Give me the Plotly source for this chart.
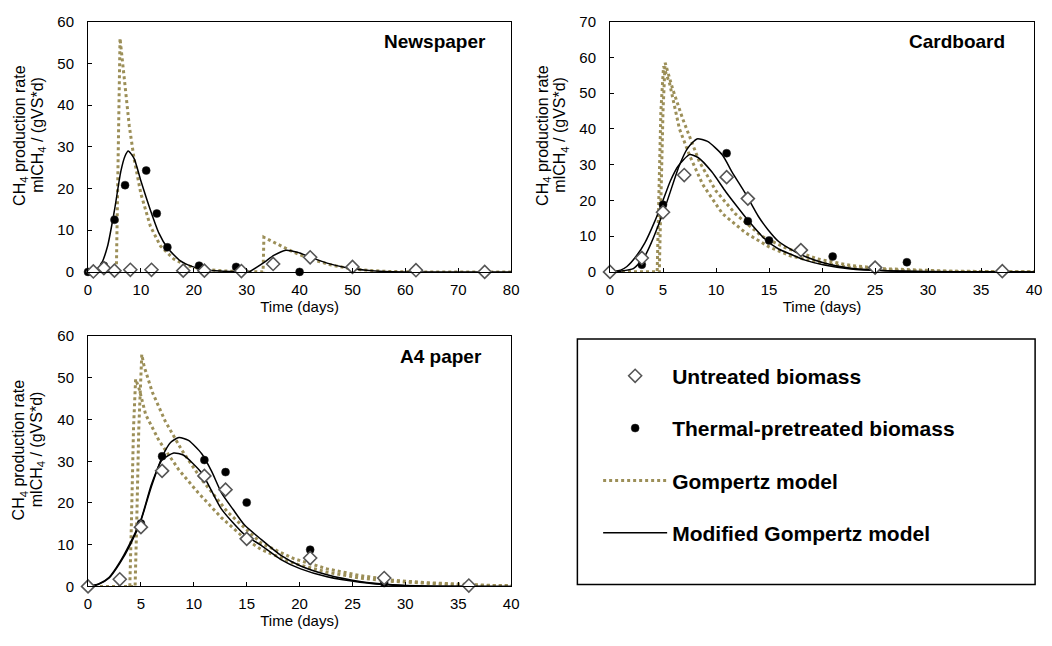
import plotly.graph_objects as go

W, H = 1052, 646
FONT = "Liberation Sans, Arial, sans-serif"
KHAKI = "#9C8F58"

# ---------------- Newspaper ----------------
np_untreated_x = [1, 3, 5, 8, 12, 18, 22, 29, 35, 42, 50, 62, 75]
np_untreated_y = [0.1, 0.9, 0.3, 0.5, 0.5, 0.3, 0.3, 0.2, 1.9, 3.5, 1.2, 0.4, 0.0]
np_thermal_x = [0, 3, 5, 7, 11, 13, 15, 21, 28, 40]
np_thermal_y = [0.0, 1.5, 12.5, 20.8, 24.3, 14.0, 5.9, 1.5, 1.2, 0.0]
np_gomp_x = [0, 5.35, 5.6, 5.85, 6.05, 6.5, 7.2, 7.8, 8.7, 10, 11.8, 13.7, 16.2, 18.7, 22, 26, 30,
             33.1, 33.25, 35.8, 38.9, 42.1, 45.8, 49.5, 53, 57, 62, 80]
np_gomp_y = [0, 0, 20, 45, 56, 50.6, 42.8, 35, 27.2, 18.7, 10.9, 6.2, 3.1, 1.5, 0.6, 0.2, 0.05,
             0, 8.3, 6.6, 4.7, 3.1, 1.7, 0.8, 0.35, 0.1, 0, 0]
np_mod_x = [0, 1.5, 2.5, 3.7, 5, 6.2, 7, 7.6, 8.7, 10, 11.8, 13.4, 15, 17.4, 19.9, 22, 25, 28,
            30.5, 31.5, 33.3, 35.2, 37.4, 39.6, 42.1, 45.2, 48.9, 52.6, 56, 60, 80]
np_mod_y = [0, 0.4, 1.9, 6.2, 14.8, 24.1, 27.8, 29, 27.2, 21.8, 14.8, 9.3, 5.8, 2.7, 1.2, 0.6, 0.2, 0.05,
            0, 0.8, 2.3, 4.0, 5.2, 4.7, 3.5, 2.1, 1.0, 0.4, 0.1, 0, 0]

# ---------------- Cardboard ----------------
cb_untreated_x = [0, 3, 5, 7, 11, 13, 18, 25, 37]
cb_untreated_y = [0.0, 3.9, 16.7, 27.1, 26.5, 20.5, 6.1, 1.2, 0.2]
cb_thermal_x = [3, 5, 11, 13, 15, 21, 28]
cb_thermal_y = [2.0, 18.8, 33.2, 14.2, 8.8, 4.3, 2.7]
cb_gomp1_x = [0, 4.45, 4.6, 4.8, 5.05, 5.62, 6.55, 7.49, 8.73, 10.6, 12.8, 15, 17, 20, 23, 26, 30, 35, 40]
cb_gomp1_y = [0, 0, 20, 45, 57.5, 52.7, 40, 32.7, 24.5, 16.3, 10.9, 7.0, 4.5, 2.4, 1.2, 0.6, 0.2, 0.05, 0]
cb_gomp2_x = [0, 4.65, 4.8, 5.0, 5.2, 5.94, 6.87, 8.42, 9.98, 11.8, 14.3, 16.5, 19.6, 22.7, 25.8, 28.9, 32, 40]
cb_gomp2_y = [0, 0, 20, 45, 58.5, 50.9, 42.7, 30.9, 22.7, 16.3, 10.0, 6.8, 3.6, 1.8, 0.9, 0.45, 0.2, 0.02]
cb_mod1_x = [0, 1, 2.2, 3.2, 3.9, 5.3, 6.5, 7.3, 8.2, 9.2, 10.6, 11.5, 12.8, 14.0, 14.9, 15.9, 16.5,
             18.4, 20.2, 22.7, 25.8, 30, 35, 40]
cb_mod1_y = [0, 0.2, 0.9, 4.0, 8.2, 19, 29.5, 34.5, 37.2, 36.5, 32.7, 28, 21.8, 15.5, 11.8, 8.5, 7.3,
             4.3, 2.5, 1.0, 0.4, 0.1, 0, 0]
cb_mod2_x = [0, 1, 1.6, 2.5, 3.3, 4.2, 5, 5.7, 6.4, 7.5, 8.3, 9.6, 10.9, 11.8, 13, 14.5, 15.9, 17, 18.4,
             20.2, 22.7, 25.8, 30, 40]
cb_mod2_y = [0, 0.5, 1.5, 4.5, 8.2, 14, 20, 25.5, 29.5, 32.8, 32, 28, 22.5, 19, 14.5, 9.5, 6.4, 5.0, 3.3,
             1.9, 0.8, 0.3, 0.05, 0]

# ---------------- A4 paper ----------------
a4_untreated_x = [0, 3, 5, 7, 11, 13, 15, 21, 28, 36]
a4_untreated_y = [0.0, 1.7, 14.2, 27.7, 26.5, 23.2, 11.4, 6.8, 2.0, 0.2]
a4_thermal_x = [5, 7, 11, 13, 15, 21, 28]
a4_thermal_y = [15.1, 31.2, 30.3, 27.4, 20.1, 8.8, 0.8]
a4_gomp1_x = [0, 4.45, 4.6, 4.8, 5.08, 5.3, 6.07, 7.3, 8.88, 10.75, 13.2, 15, 16.4, 19.5, 22.6, 25.7,
              28.8, 31.9, 35, 38, 40]
a4_gomp1_y = [0, 0, 15, 38, 55.6, 52.8, 46.6, 39.6, 32.6, 25.6, 17.8, 13.5, 10.3, 6.6, 4.2, 2.6,
              1.5, 0.9, 0.5, 0.25, 0.2]
a4_gomp2_x = [0, 3.95, 4.1, 4.3, 4.5, 4.83, 5.45, 6.7, 8.57, 10.4, 12.6, 14.8, 16.4, 19.5, 22.6, 25.7,
              28.8, 31.9, 35, 40]
a4_gomp2_y = [0, 0, 15, 38, 49.7, 47.4, 41.2, 35, 28, 22.5, 16.5, 11.5, 8.8, 5.5, 3.4, 2.0,
              1.2, 0.7, 0.35, 0.1]
a4_mod1_x = [0, 1, 2, 3, 4, 5, 6, 7, 7.8, 8.6, 9.5, 10.75, 11.7, 12.6, 13.7, 14.8, 16.4, 18.2, 20.1,
             22.6, 25.7, 28.8, 32, 40]
a4_mod1_y = [0, 0.5, 2.0, 5.5, 10, 15.8, 24, 31, 34.5, 35.7, 35, 31.8, 27.5, 22.5, 18.5, 14.7, 11.2,
             7.5, 4.9, 2.8, 1.2, 0.4, 0.1, 0]
a4_mod2_x = [0, 1, 2, 3, 4, 5, 6, 7, 8.1, 9, 10.75, 12.6, 14.8, 16.4, 18.2, 20.1, 22.6, 25.7, 28.8,
             32, 40]
a4_mod2_y = [0, 0.6, 2.2, 5.8, 10.5, 16, 24.5, 30.3, 32, 31.5, 27.2, 18.6, 12.4, 9.8, 6.5, 4.2, 2.3,
             1.0, 0.3, 0.05, 0]

panels = [
    dict(ax="", label="Newspaper", xr=80, xd=10, yr=60, yd=10,
         unt=(np_untreated_x, np_untreated_y), th=(np_thermal_x, np_thermal_y),
         gomp=[(np_gomp_x, np_gomp_y)], mod=[(np_mod_x, np_mod_y)],
         px=(85, 513), py=(13, 270), lab=(0.946, 0.922)),
    dict(ax="2", label="Cardboard", xr=40, xd=5, yr=70, yd=10,
         unt=(cb_untreated_x, cb_untreated_y), th=(cb_thermal_x, cb_thermal_y),
         gomp=[(cb_gomp1_x, cb_gomp1_y), (cb_gomp2_x, cb_gomp2_y)],
         mod=[(cb_mod1_x, cb_mod1_y), (cb_mod2_x, cb_mod2_y)],
         px=(613, 1042), py=(13, 270), lab=(0.937, 0.922)),
    dict(ax="3", label="A4 paper", xr=40, xd=5, yr=60, yd=10,
         unt=(a4_untreated_x, a4_untreated_y), th=(a4_thermal_x, a4_thermal_y),
         gomp=[(a4_gomp1_x, a4_gomp1_y), (a4_gomp2_x, a4_gomp2_y)],
         mod=[(a4_mod1_x, a4_mod1_y), (a4_mod2_x, a4_mod2_y)],
         px=(85, 513), py=(336, 593), lab=(0.935, 0.918)),
]

fig = go.Figure()
shown = set()


def leg(name):
    if name in shown:
        return False
    shown.add(name)
    return True


order = {"Untreated biomass": 1, "Thermal-pretreated biomass": 2,
         "Gompertz model": 3, "Modified Gompertz model": 4}

for p in panels:
    xa, ya = "x" + p["ax"], "y" + p["ax"]
    for gx, gy in p["gomp"]:
        n = "Gompertz model"
        fig.add_trace(go.Scatter(x=gx, y=gy, mode="lines", xaxis=xa, yaxis=ya, name=n,
                                 legendgroup=n, legendrank=order[n], showlegend=leg(n),
                                 line=dict(color=KHAKI, width=3, dash="dot")))
    for mx, my in p["mod"]:
        n = "Modified Gompertz model"
        fig.add_trace(go.Scatter(x=mx, y=my, mode="lines", xaxis=xa, yaxis=ya, name=n,
                                 legendgroup=n, legendrank=order[n], showlegend=leg(n),
                                 line=dict(color="black", width=1.5), line_shape="spline",
                                 line_smoothing=0.6))
    n = "Thermal-pretreated biomass"
    fig.add_trace(go.Scatter(x=p["th"][0], y=p["th"][1], mode="markers", xaxis=xa, yaxis=ya,
                             name=n, legendgroup=n, legendrank=order[n], showlegend=leg(n),
                             cliponaxis=False,
                             marker=dict(symbol="circle", size=8, color="black",
                                         line=dict(color="#222", width=0.5))))
    n = "Untreated biomass"
    fig.add_trace(go.Scatter(x=p["unt"][0], y=p["unt"][1], mode="markers", xaxis=xa, yaxis=ya,
                             name=n, legendgroup=n, legendrank=order[n], showlegend=leg(n),
                             cliponaxis=False,
                             marker=dict(symbol="diamond", size=10, color="white",
                                         line=dict(color="#555", width=1.6))))

axis_common = dict(showline=True, linecolor="black", linewidth=1, mirror=True,
                   ticks="inside", ticklen=4, tickcolor="black", showgrid=False,
                   zeroline=False, tickfont=dict(family=FONT, size=15, color="black"))

annotations = []
for p in panels:
    x0, x1 = p["px"]
    y0, y1 = p["py"]
    xdom = [x0 / W, x1 / W]
    ydom = [1 - y1 / H, 1 - y0 / H]
    sfx = p["ax"]
    fig.layout["xaxis" + sfx] = dict(axis_common, domain=xdom, range=[0, p["xr"]], dtick=p["xd"],
                                     anchor="y" + sfx, ticklabelstandoff=4,
                                     title=dict(text="Time (days)",
                                                font=dict(family=FONT, size=15, color="black"),
                                                standoff=4))
    fig.layout["yaxis" + sfx] = dict(axis_common, domain=ydom, range=[0, p["yr"]], dtick=p["yd"],
                                     anchor="x" + sfx, ticklabelstandoff=10)
    annotations.append(dict(text="<b>%s</b>" % p["label"], xref="x%s domain" % sfx,
                            yref="y%s domain" % sfx, x=p["lab"][0], y=p["lab"][1],
                            xanchor="right", yanchor="middle", showarrow=False,
                            font=dict(family=FONT, size=19, color="black")))
    # two-line y title
    lx = x0 - 69 if sfx != "2" else x0 - 68
    cy = (y0 + y1) / 2 - 12
    for i, t in enumerate(["CH<sub>4</sub> production rate", "mlCH<sub>4</sub> / (gVS*d)"]):
        annotations.append(dict(text=t, xref="paper", yref="paper",
                                x=(lx + i * 18) / W, y=1 - cy / H, textangle=-90,
                                xanchor="center", yanchor="middle", showarrow=False,
                                font=dict(family=FONT, size=16, color="black")))

fig.update_layout(
    width=W, height=H, margin=dict(l=0, r=0, t=0, b=0),
    paper_bgcolor="white", plot_bgcolor="white",
    annotations=annotations,
    shapes=[dict(type="rect", xref="paper", yref="paper", x0=580 / W, x1=1043 / W,
                 y0=1 - 591 / H, y1=1 - 339 / H, line=dict(color="black", width=1.5))],
    legend=dict(x=601 / W, y=1 - 356 / H, xanchor="left", yanchor="top",
                font=dict(family=FONT, size=21, color="black", weight="bold"),
                itemwidth=64, tracegroupgap=22, bgcolor="rgba(0,0,0,0)",
                traceorder="grouped"),
    showlegend=True,
)

fig.write_html("out.html", config={"displayModeBar": False},
               post_script="document.body.style.margin='0';document.body.style.padding='0';")
